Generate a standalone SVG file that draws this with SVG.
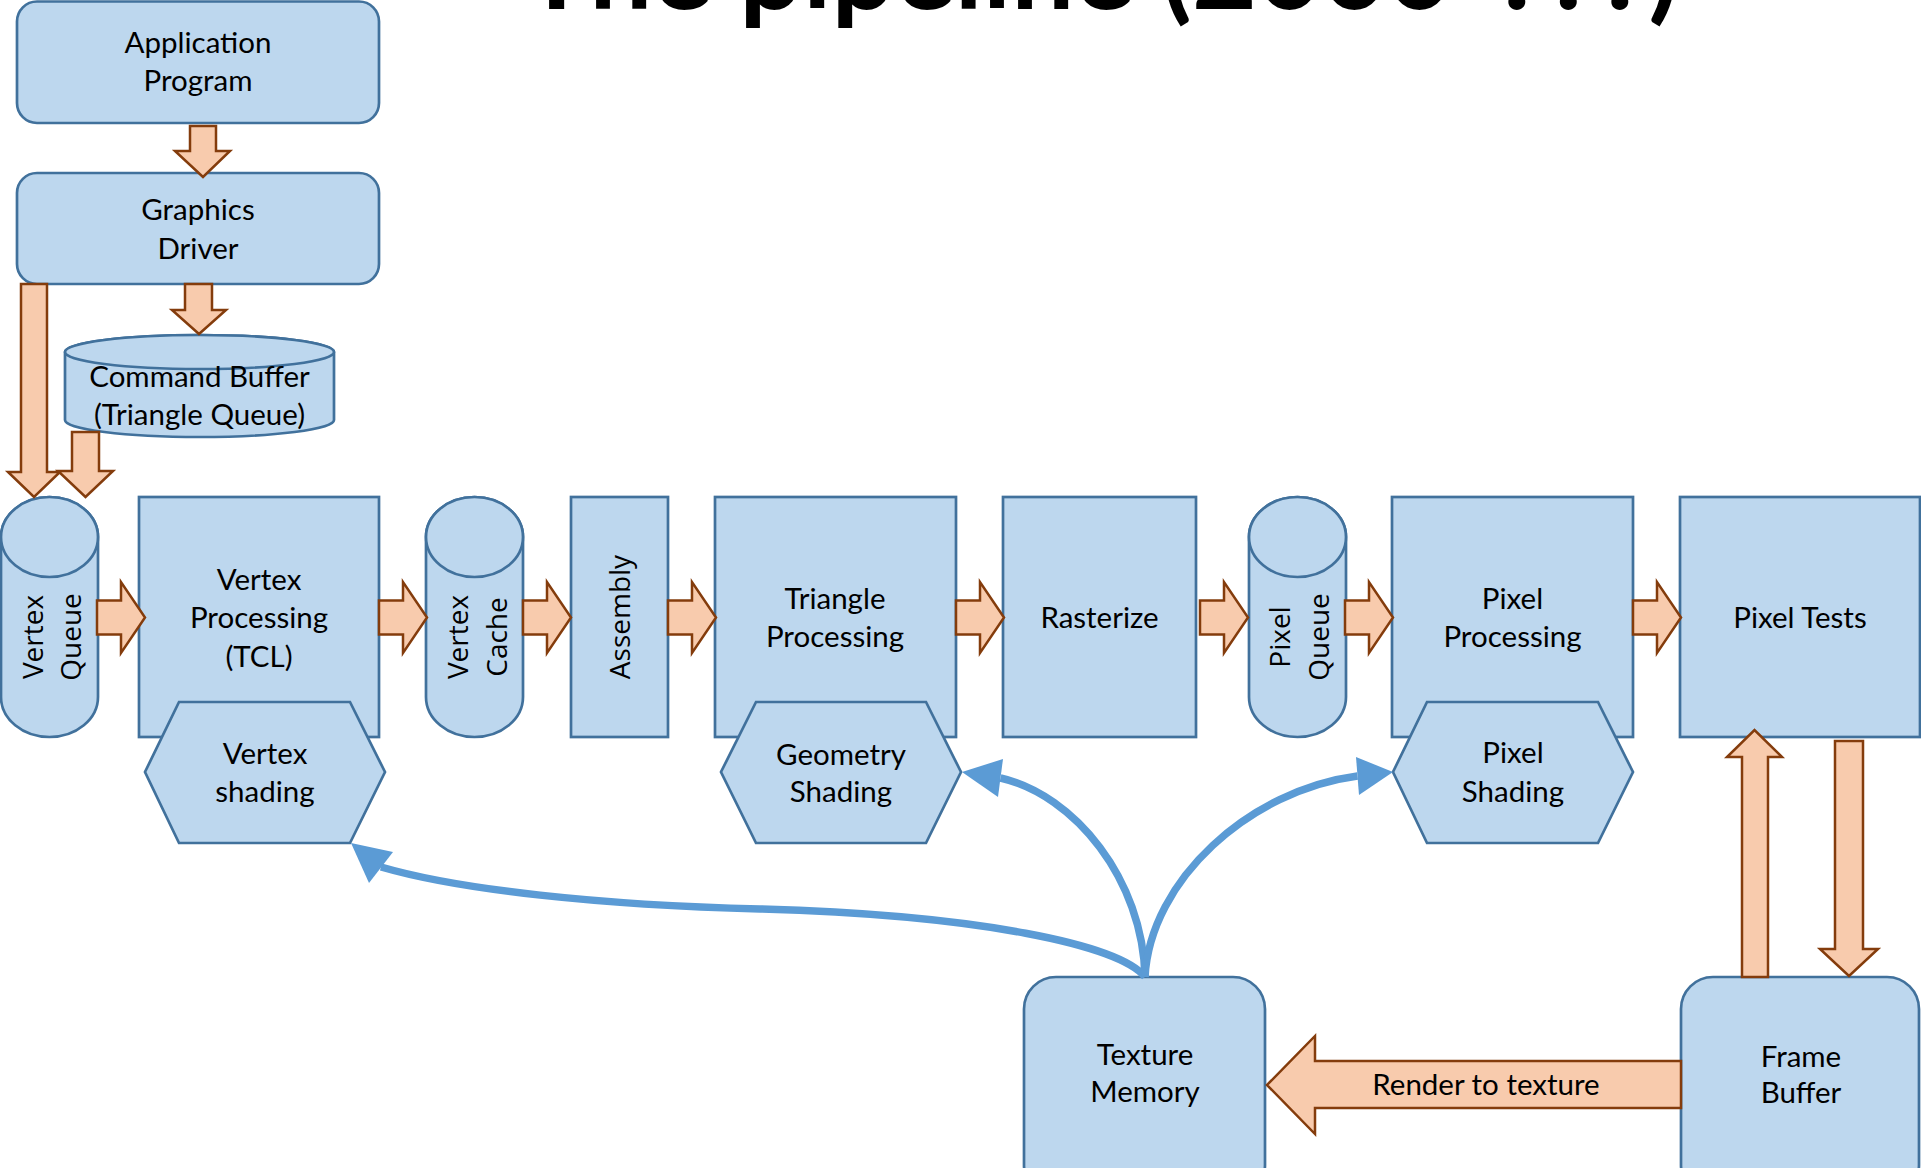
<svg xmlns="http://www.w3.org/2000/svg" xmlns:xlink="http://www.w3.org/1999/xlink" width="1921" height="1168" viewBox="0 0 1921 1168">
<style>
.node{fill:#BDD7EE;stroke:#41719C;stroke-width:2.7}
.oarrow{fill:#F8CBAD;stroke:#843C0C;stroke-width:2.5;stroke-linejoin:miter}
.curve{fill:none;stroke:#5B9BD5;stroke-width:7.5}
.head{fill:#5B9BD5;stroke:none}
.lbl{font-family:Lato,"Liberation Sans",sans-serif;font-size:29.5px;fill:#000;text-anchor:middle}
.vlbl{font-family:"Open Sans","Liberation Sans",sans-serif;font-size:28px;fill:#000;text-anchor:middle}
.title{font-family:Lato,"Liberation Sans",sans-serif;font-size:112px;font-weight:bold;fill:#000;text-anchor:middle}
</style>
<defs>
<path id="ra" d="M0,-17 H24 V-35.5 L48,0 L24,35.5 V17 H0 Z"/>
<g id="vcyl">
<path d="M0,40 A48.5,40 0 0 1 97,40 V200 A48.5,40 0 0 1 0,200 Z"/>
<ellipse cx="48.5" cy="40" rx="48.5" ry="40"/>
</g>
</defs>

<text class="title" x="1101" y="9">The pipeline (2000-???)</text>

<g id="app-program">
<rect class="node" x="17" y="1.5" width="362" height="121.5" rx="20" ry="20"/>
<text class="lbl" x="198" y="53">Application</text>
<text class="lbl" x="198" y="91">Program</text>
</g>

<g id="graphics-driver">
<rect class="node" x="17" y="173" width="362" height="111" rx="20" ry="20"/>
<text class="lbl" x="198" y="220">Graphics</text>
<text class="lbl" x="198" y="259">Driver</text>
</g>

<g id="command-buffer">
<path class="node" d="M65,352 A134.5,17 0 0 1 334,352 V420 A134.5,17 0 0 1 65,420 Z"/>
<ellipse class="node" cx="199.5" cy="352" rx="134.5" ry="17"/>
<text class="lbl" x="199.5" y="387">Command Buffer</text>
<text class="lbl" x="199.5" y="425">(Triangle Queue)</text>
</g>

<g id="vertex-queue">
<use href="#vcyl" class="node" transform="translate(1,497)"/>
<g transform="translate(49.5,637) rotate(-90)">
<text class="vlbl" x="0" y="-7">Vertex</text>
<text class="vlbl" x="0" y="31">Queue</text>
</g>
</g>

<g id="vertex-processing">
<rect class="node" x="139" y="497" width="240" height="240"/>
<text class="lbl" x="259" y="590">Vertex</text>
<text class="lbl" x="259" y="628">Processing</text>
<text class="lbl" x="259" y="667">(TCL)</text>
</g>

<g id="vertex-shading">
<polygon class="node" points="179,702 350,702 385,772 350,843 179,843 145,772"/>
<text class="lbl" x="265" y="764">Vertex</text>
<text class="lbl" x="265" y="802">shading</text>
</g>

<g id="vertex-cache">
<use href="#vcyl" class="node" transform="translate(426,497)"/>
<g transform="translate(474.5,637) rotate(-90)">
<text class="vlbl" x="0" y="-6.5">Vertex</text>
<text class="vlbl" x="0" y="32">Cache</text>
</g>
</g>

<g id="assembly">
<rect class="node" x="571" y="497" width="97" height="240"/>
<text class="vlbl" transform="translate(619.5,617) rotate(-90)" x="0" y="10">Assembly</text>
</g>

<g id="triangle-processing">
<rect class="node" x="715" y="497" width="241" height="240"/>
<text class="lbl" x="835" y="609">Triangle</text>
<text class="lbl" x="835" y="647">Processing</text>
</g>

<g id="geometry-shading">
<polygon class="node" points="756,702 926,702 961,772 926,843 756,843 721,772"/>
<text class="lbl" x="841" y="765">Geometry</text>
<text class="lbl" x="841" y="802">Shading</text>
</g>

<g id="rasterize">
<rect class="node" x="1003" y="497" width="193" height="240"/>
<text class="lbl" x="1099.5" y="628">Rasterize</text>
</g>

<g id="pixel-queue">
<use href="#vcyl" class="node" transform="translate(1249,497)"/>
<g transform="translate(1297.5,637) rotate(-90)">
<text class="vlbl" x="0" y="-7.5">Pixel</text>
<text class="vlbl" x="0" y="31">Queue</text>
</g>
</g>

<g id="pixel-processing">
<rect class="node" x="1392" y="497" width="241" height="240"/>
<text class="lbl" x="1512.5" y="609">Pixel</text>
<text class="lbl" x="1512.5" y="647">Processing</text>
</g>

<g id="pixel-shading">
<polygon class="node" points="1427,702 1598,702 1633,772 1598,843 1427,843 1393,772"/>
<text class="lbl" x="1513" y="763">Pixel</text>
<text class="lbl" x="1513" y="802">Shading</text>
</g>

<g id="pixel-tests">
<rect class="node" x="1680" y="497" width="240" height="240"/>
<text class="lbl" x="1800" y="628">Pixel Tests</text>
</g>

<g id="texture-memory">
<rect class="node" x="1024" y="977" width="241" height="220" rx="32" ry="32"/>
<text class="lbl" x="1145" y="1065">Texture</text>
<text class="lbl" x="1145" y="1102">Memory</text>
</g>

<g id="frame-buffer">
<rect class="node" x="1681" y="977" width="238" height="220" rx="32" ry="32"/>
<text class="lbl" x="1801" y="1067">Frame</text>
<text class="lbl" x="1801" y="1103">Buffer</text>
</g>

<g id="connectors">
<path class="oarrow" d="M190,126 H216 V151 H230 L203,177 L175,151 H190 Z"/>
<path class="oarrow" d="M185,284 H212 V310 H226 L199,334 L172,310 H185 Z"/>
<path class="oarrow" d="M21,284 H47 V472 H60 L34,497 L8,472 H21 Z"/>
<path class="oarrow" d="M72,432 H99 V471 H113 L85.5,497 L58,471 H72 Z"/>
<use href="#ra" class="oarrow" transform="translate(97,617.5)"/>
<use href="#ra" class="oarrow" transform="translate(379,617.5)"/>
<use href="#ra" class="oarrow" transform="translate(523,617.5)"/>
<use href="#ra" class="oarrow" transform="translate(668,617.5)"/>
<use href="#ra" class="oarrow" transform="translate(956,617.5)"/>
<use href="#ra" class="oarrow" transform="translate(1200,617.5)"/>
<use href="#ra" class="oarrow" transform="translate(1345,617.5)"/>
<use href="#ra" class="oarrow" transform="translate(1633,617.5)"/>
<path class="oarrow" d="M1742,977 V757 H1727 L1754.5,730 L1782,757 H1768 V977 Z"/>
<path class="oarrow" d="M1835,741 H1863 V949 H1878 L1849,976 L1820,949 H1835 Z"/>
<path class="oarrow" d="M1681,1061 V1108 H1315 V1134 L1267,1085 L1315,1036 V1061 Z"/>
<text class="lbl" x="1486" y="1095">Render to texture</text>
<path class="curve" d="M1145,977 C1120,945 980,915 760,909 C600,905 460,890 381,867"/>
<path class="curve" d="M1145,977 C1143,880 1075,795 1000.5,778"/>
<path class="curve" d="M1145,977 C1150,880 1250,790 1357.5,776"/>
<polygon class="head" points="351,843 393,852 369,883"/>
<polygon class="head" points="962,772 1003,759 998,797"/>
<polygon class="head" points="1393,772 1356,757 1359,795"/>
</g>
</svg>
